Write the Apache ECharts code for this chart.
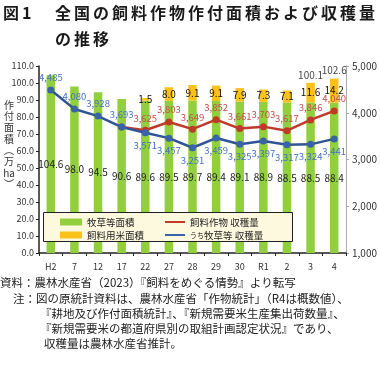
<!DOCTYPE html>
<html><head><meta charset="utf-8">
<script src="https://cdn.jsdelivr.net/npm/echarts@6/dist/echarts.min.js"></script>
<style>html,body{margin:0;padding:0;background:#fff}#c{width:380px;height:369px}</style>
</head><body><div id="c"></div>
<script>
const categories = ['H2','7','12','17','22','27','28','29','30','R1','2','3','4'];
const pastureArea = [104.6,98.0,94.5,90.6,89.6,89.5,89.7,89.4,89.1,88.9,88.5,88.5,88.4];
const riceArea = [null,null,null,null,1.5,8.0,9.1,9.1,7.9,7.3,7.1,11.6,14.2];
const totalArea = [null,null,null,null,null,null,null,null,null,null,null,100.1,102.6];
const feedHarvest = [null,null,null,3693,3625,3803,3649,3852,3661,3703,3617,3846,4040];
const pastureHarvest = [4485,4080,3928,3693,3571,3457,3251,3459,3325,3397,3317,3324,3441];
const leftTicks = {min:0, max:110, interval:10};
const rightTicks = {min:1000, max:5000, interval:1000};

const FONT = '"Noto Sans CJK JP", "Noto Sans", sans-serif';
const chart = echarts.init(document.getElementById('c'));

const graphics = [];
function charRow(str, x0, y, adv, size){
  for (let i=0;i<str.length;i++){
    graphics.push({type:'text', x:x0+i*adv, y:y, style:{text:str[i], font:'bold '+size+'px '+FONT, fill:'#1a1a1a', textVerticalAlign:'middle'}});
  }
}
charRow('図', 3, 13, 19, 16);
charRow('1', 22, 13, 19, 16);
charRow('全国の飼料作物作付面積および収穫量', 55, 13, 19, 16);
charRow('の推移', 55, 39, 19, 16);

// vertical y axis name
const vname = ['作','付','面','積','︵','万','ha','︶'];
vname.forEach((ch,i)=>{
  graphics.push({type:'text', x:9, y:105+i*11.3, style:{text:ch, font:'10px '+FONT, fill:'#333', textAlign:'center', textVerticalAlign:'middle'}});
});

// legend box
graphics.push({type:'rect', z:5, shape:{x:43.5, y:212.5, width:249, height:29}, style:{fill:'#FDF9DF', stroke:'#222', lineWidth:1}});

const notes = [
  [0, 283, '資料：農林水産省（2023）『飼料をめぐる情勢』より転写'],
  [13, 299, '注：図の原統計資料は、農林水産省「作物統計」（R4は概数値）、'],
  [40, 314, '『耕地及び作付面積統計』、『新規需要米生産集出荷数量』、'],
  [40, 329, '『新規需要米の都道府県別の取組計画認定状況』であり、'],
  [44, 344, '収穫量は農林水産省推計。']
];
notes.forEach(n=>graphics.push({type:'text', x:n[0], y:n[1], style:{text:n[2], font:'11.5px '+FONT, fill:'#222', textVerticalAlign:'middle'}}));

const axisLabelStyle = {color:'#333', fontSize:9, fontFamily:FONT};

chart.setOption({
  animation:false,
  textStyle:{fontFamily:FONT},
  grid:{left:39, right:34, top:66, bottom:116},
  graphic:{elements:graphics},
  legend:[
    {orient:'vertical', left:60, top:216, padding:0, itemWidth:22, itemHeight:7, itemGap:1, icon:'rect',
     data:['牧草等面積','飼料用米面積'], textStyle:{fontSize:9.5, lineHeight:12, color:'#222', fontFamily:FONT}, z:6},
    {orient:'vertical', left:165, top:216, padding:0, itemWidth:20, itemHeight:2, itemGap:1, icon:'rect',
     data:['飼料作物 収穫量','うち牧草等 収穫量'],
     formatter: n => n==='うち牧草等 収穫量' ? '{s|うち}{n|牧草等 収穫量}' : n,
     textStyle:{fontSize:9.5, lineHeight:12, color:'#222', fontFamily:FONT,
       rich:{s:{fontSize:7, lineHeight:12, color:'#222'}, n:{fontSize:9.5, lineHeight:12, color:'#222'}}}, z:6}
  ],
  xAxis:{type:'category', data:categories, boundaryGap:true,
    axisLine:{lineStyle:{color:'#222', width:1.5}},
    axisTick:{show:true, alignWithLabel:false, length:3, lineStyle:{color:'#222'}},
    axisLabel:Object.assign({margin:9}, axisLabelStyle)},
  yAxis:[
    {type:'value', min:leftTicks.min, max:leftTicks.max, interval:leftTicks.interval,
     axisLine:{show:true, lineStyle:{color:'#222', width:1.5}},
     axisTick:{show:true, length:3, lineStyle:{color:'#222'}},
     splitLine:{show:false},
     axisLabel:Object.assign({formatter:v=>v.toFixed(1), margin:5}, axisLabelStyle)},
    {type:'value', min:rightTicks.min, max:rightTicks.max, interval:rightTicks.interval, position:'right',
     axisLine:{show:true, lineStyle:{color:'#aaa', width:1}},
     axisTick:{show:true, length:3, lineStyle:{color:'#aaa'}},
     splitLine:{show:false},
     axisLabel:Object.assign({formatter:v=>v.toLocaleString('en-US'), margin:6}, axisLabelStyle, {fontSize:10})}
  ],
  series:[
    {name:'牧草等面積', type:'bar', stack:'a', data:pastureArea, barWidth:8.5,
     itemStyle:{color:'#92CF3C'},
     label:{show:true, position:'inside', color:'#222', fontSize:10, formatter:p=>p.value.toFixed(1)}},
    {name:'飼料用米面積', type:'bar', stack:'a', data:riceArea, barWidth:8.5,
     itemStyle:{color:'#F9C21B'},
     label:{show:true, position:'inside', color:'#111', fontSize:10, formatter:p=>p.value==null?'':p.value.toFixed(1)}},
    {name:'total', type:'scatter', data:totalArea, symbolSize:0, silent:true,
     label:{show:true, position:'top', distance:3, color:'#111', fontSize:10, formatter:p=>p.value==null?'':p.value.toFixed(1)}},
    {name:'飼料作物 収穫量', type:'line', yAxisIndex:1, data:feedHarvest, z:4,
     symbol:'circle', symbolSize:7, lineStyle:{color:'#C0392B', width:2.5}, itemStyle:{color:'#C0392B'},
     label:{show:true, position:'top', distance:4, color:'#C0504D', fontSize:9.5,
       formatter:p=>(p.dataIndex<4||p.value==null)?'':p.value.toLocaleString('en-US')}},
    {name:'うち牧草等 収穫量', type:'line', yAxisIndex:1, z:5,
     data:pastureHarvest.map((v,i)=>({value:v, label:{position:i<4?'top':'bottom'}})),
     symbol:'circle', symbolSize:7, lineStyle:{color:'#2F5597', width:2.5}, itemStyle:{color:'#3B64A8'},
     label:{show:true, distance:4, color:'#4472C4', fontSize:9.5,
       formatter:p=>p.value.toLocaleString('en-US')}}
  ]
});
</script></body></html>
